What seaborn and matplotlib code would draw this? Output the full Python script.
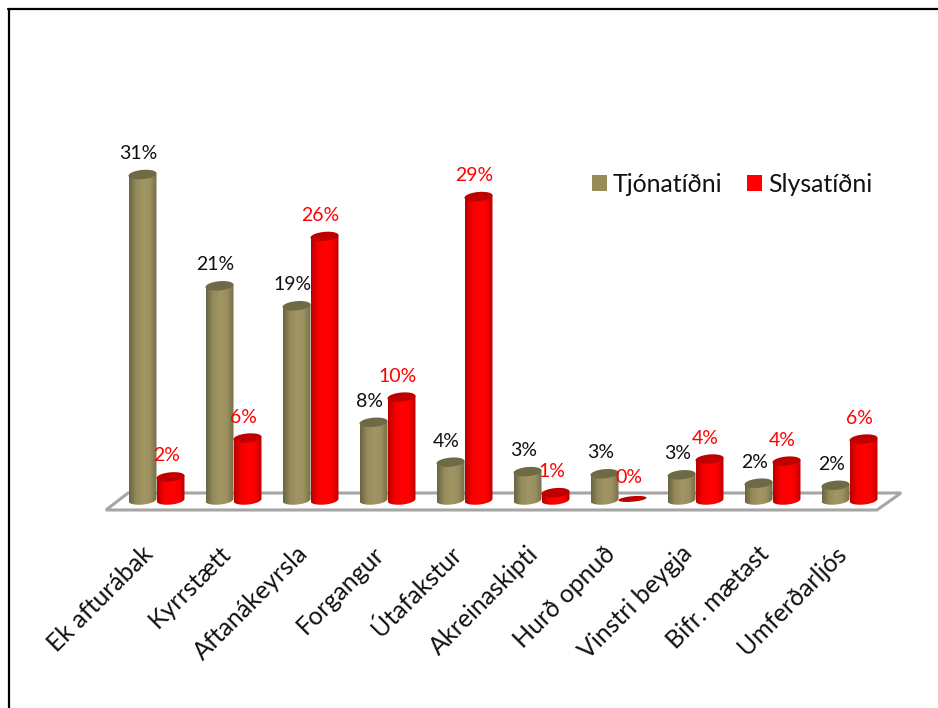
import numpy as np
import pandas as pd
import matplotlib
matplotlib.use("Agg")
import matplotlib.pyplot as plt
import seaborn as sns
from matplotlib.colors import LinearSegmentedColormap
from matplotlib.lines import Line2D
from matplotlib.patches import PathPatch, Polygon
from matplotlib.path import Path
from matplotlib.transforms import ScaledTranslation

categories = ["Ek afturábak", "Kyrrstætt", "Aftanákeyrsla", "Forgangur", "Útafakstur",
              "Akreinaskipti", "Hurð opnuð", "Vinstri beygja", "Bifr. mætast", "Umferðarljós"]
tjon = [31.0, 20.4, 18.5, 7.4, 3.6, 2.7, 2.5, 2.4, 1.6, 1.4]
slys = [2.2, 5.9, 25.1, 9.8, 28.9, 0.7, 0.1, 3.9, 3.7, 5.8]
tjon_labels = ["31%", "21%", "19%", "8%", "4%", "3%", "3%", "3%", "2%", "2%"]
slys_labels = ["2%", "6%", "26%", "10%", "29%", "1%", "0%", "4%", "4%", "6%"]
series_names = ["Tjónatíðni", "Slysatíðni"]
palette = {"Tjónatíðni": "#968C5A", "Slysatíðni": "#FF0000"}
label_colors = {"Tjónatíðni": "#111111", "Slysatíðni": "#FF0000"}
shades = {
    "Tjónatíðni": ["#6A6542", "#948B5A", "#A09563", "#9C915F", "#746E48"],
    "Slysatíðni": ["#B80000", "#F60000", "#FF0000", "#FC0000", "#BC0000"],
}
cap_colors = {"Tjónatíðni": "#6E6A46", "Slysatíðni": "#C00000"}
all_labels = {"Tjónatíðni": tjon_labels, "Slysatíðni": slys_labels}

W, H = 938, 708
sns.set_style("white")
plt.rcParams["font.family"] = ["Lato", "DejaVu Sans"]

df = pd.DataFrame({
    "cat": categories * 2,
    "series": [series_names[0]] * len(categories) + [series_names[1]] * len(categories),
    "value": tjon + slys,
})

fig = plt.figure(figsize=(W / 100, H / 100), dpi=100, facecolor="white")
# axes box in pixels: 10 categories spanning x 118-888, baseline at y=500
AX_L, AX_R, AX_B, AX_T = 118, 888, 500, 150
PX_PER_UNIT = 10.5
ax = fig.add_axes([AX_L / W, 1 - AX_B / H, (AX_R - AX_L) / W, (AX_B - AX_T) / H])
sns.barplot(data=df, x="cat", y="value", hue="series", hue_order=series_names,
            palette=palette, width=0.727, gap=0, saturation=1, dodge=True, ax=ax, zorder=3)
ax.set_xlim(-0.5, len(categories) - 0.5)
ax.set_ylim(0, (AX_B - AX_T) / PX_PER_UNIT)
PX_PER_CAT = (AX_R - AX_L) / len(categories)


def px2data(px, py):
    return (px - AX_L) / PX_PER_CAT - 0.5, (AX_B - py) / PX_PER_UNIT


# floor of the pseudo-3D chart
floor = Polygon([px2data(106, 510), px2data(877, 510), px2data(901, 493), px2data(128, 493)],
                closed=True, facecolor="white", edgecolor="#A6A6A6", lw=2.2,
                clip_on=False, zorder=1)
ax.add_patch(floor)

RY = 4.6 / PX_PER_UNIT
TILT = 1.2 / PX_PER_UNIT
t = np.linspace(0, 2 * np.pi, 61)


def ellipse(xc, yc, rx, ry=RY):
    return np.column_stack([xc + rx * np.cos(t), yc + ry * np.sin(t) + TILT * np.cos(t)])


z = 3
for name, cont in zip(series_names, ax.containers):
    cmap = LinearSegmentedColormap.from_list(name, shades[name])
    for bar, lab in zip(cont, all_labels[name]):
        x0, w, h = bar.get_x(), bar.get_width(), bar.get_height()
        xc, rx = x0 + w / 2, w / 2
        bar.set_visible(False)
        z += 1
        if h > 0.3:
            s = np.linspace(np.pi, 2 * np.pi, 31)
            low = np.column_stack([xc + rx * np.cos(s), RY * np.sin(s) + TILT * np.cos(s)])
            up = np.array([[x0 + w, h + TILT], [x0, h - TILT]])
            pts = np.vstack([low, up, low[:1]])
            clip = PathPatch(Path(pts), transform=ax.transData, facecolor="none", edgecolor="none")
            ax.add_patch(clip)
            im = ax.imshow(np.linspace(0, 1, 64)[None, :], cmap=cmap, aspect="auto",
                           extent=(x0, x0 + w, -RY * 1.5, h + RY * 1.5), zorder=z,
                           interpolation="bilinear")
            im.set_clip_path(clip)
            im.set_clip_box(fig.bbox)
        cap = Polygon(ellipse(xc, h, rx, RY if h > 0.3 else RY * 0.6), closed=True,
                      facecolor=cap_colors[name], edgecolor="none", zorder=z + 0.5, clip_on=False)
        ax.add_patch(cap)
        ax.annotate(lab, (xc, h), xytext=(-4 * 0.72, 21 * 0.72), textcoords="offset points",
                    ha="center", va="center", fontsize=14, color=label_colors[name],
                    annotation_clip=False, zorder=100)
ax.set_xlim(-0.5, len(categories) - 0.5)
ax.set_ylim(0, (AX_B - AX_T) / PX_PER_UNIT)

sns.despine(ax=ax, left=True, bottom=True, top=True, right=True)
ax.patch.set_alpha(0)
ax.set_xlabel("")
ax.set_ylabel("")
ax.set_yticks([])
ax.set_xticks(range(len(categories)))
ax.set_xticklabels(categories, rotation=45, ha="right", rotation_mode="anchor",
                   fontsize=18, color="#111111")
ax.tick_params(axis="x", length=0, pad=30)
shift = ScaledTranslation(-15 / 100, 0, fig.dpi_scale_trans)
for tl in ax.get_xticklabels():
    tl.set_transform(tl.get_transform() + shift)

handles = [plt.Rectangle((0, 0), 1, 1, facecolor=palette[n], edgecolor="none") for n in series_names]
ax.legend(handles, series_names, ncol=2, frameon=False, fontsize=17.9, loc="center left",
          bbox_to_anchor=(592 / W, 1 - 184 / H), bbox_transform=fig.transFigure,
          handlelength=0.6, handleheight=0.6, handletextpad=0.24, columnspacing=1.0,
          borderpad=0, borderaxespad=0, labelcolor="#111111")

# outer frame visible in the reference: left and top edges only
fig.add_artist(Line2D([8.5 / W, 8.5 / W], [0, 1 - 9 / H], color="black", lw=1.6))
fig.add_artist(Line2D([8 / W, 1], [1 - 9 / H, 1 - 9 / H], color="black", lw=1.6))

fig.savefig("out.png", dpi=100, facecolor="white")
